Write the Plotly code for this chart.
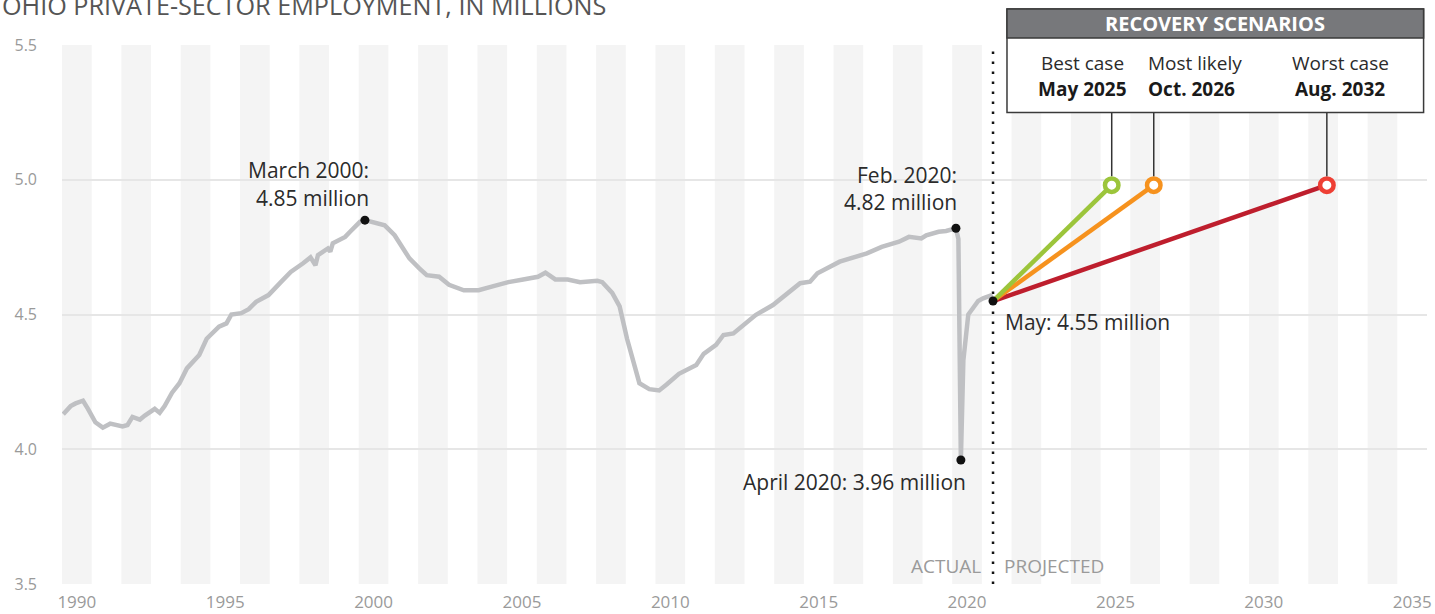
import plotly.graph_objects as go

# ---------------- data ----------------
months = [
    "1990-01", "1990-04", "1990-06", "1990-09", "1990-11", "1991-02", "1991-05", "1991-08",
    "1992-01", "1992-03", "1992-05", "1992-08", "1992-10", "1993-02", "1993-04", "1993-06",
    "1993-09", "1993-12", "1994-03", "1994-05", "1994-08", "1994-11", "1995-04", "1995-07",
    "1995-09", "1996-01", "1996-04", "1996-07", "1996-12", "1997-05", "1997-09", "1998-02",
    "1998-05", "1998-07", "1998-08", "1998-12", "1999-01", "1999-02", "1999-07", "1999-09",
    "2000-01", "2000-03", "2000-06", "2000-11", "2001-03", "2001-09", "2002-01", "2002-04",
    "2002-09", "2003-01", "2003-07", "2004-01", "2004-07", "2005-01", "2005-07", "2006-01",
    "2006-04", "2006-08", "2007-01", "2007-06", "2008-01", "2008-03", "2008-07", "2008-10",
    "2009-01", "2009-04", "2009-06", "2009-10", "2010-02", "2010-05", "2010-10", "2011-05",
    "2011-08", "2012-01", "2012-04", "2012-08", "2013-05", "2013-12", "2014-05", "2014-11",
    "2015-03", "2015-06", "2016-03", "2016-08", "2017-02", "2017-08", "2018-03", "2018-07",
    "2018-12", "2019-02", "2019-07", "2019-10", "2020-02", "2020-03", "2020-04", "2020-05",
    "2020-06", "2020-07", "2020-09", "2020-11", "2021-01", "2021-03", "2021-04", "2021-05",
]
employment = [
    4.13, 4.16, 4.17, 4.18, 4.15, 4.10, 4.08, 4.095,
    4.085, 4.09, 4.12, 4.11, 4.125, 4.15, 4.135, 4.16,
    4.21, 4.245, 4.30, 4.32, 4.35, 4.41, 4.455, 4.467,
    4.50, 4.505, 4.52, 4.547, 4.572, 4.62, 4.658, 4.69,
    4.712, 4.683, 4.72, 4.745, 4.733, 4.764, 4.788, 4.807,
    4.844, 4.85, 4.844, 4.831, 4.794, 4.708, 4.671, 4.646,
    4.64, 4.61, 4.59, 4.59, 4.605, 4.62, 4.63, 4.64,
    4.655, 4.63, 4.63, 4.62, 4.625, 4.62, 4.58, 4.53,
    4.41, 4.31, 4.245, 4.223, 4.218, 4.24, 4.28, 4.313,
    4.354, 4.387, 4.424, 4.43, 4.498, 4.535, 4.572, 4.616,
    4.622, 4.653, 4.696, 4.712, 4.727, 4.751, 4.77, 4.788,
    4.782, 4.794, 4.807, 4.81, 4.82, 4.78, 3.96, 4.33,
    4.44, 4.50, 4.525, 4.55, 4.56, 4.565, 4.57, 4.55,
]

highlight_months = ["2000-03", "2020-02", "2020-04", "2021-05"]
highlight_values = [4.85, 4.82, 3.96, 4.55]

scenario_names = ["Best case", "Most likely", "Worst case"]
scenario_months = ["2025-05", "2026-10", "2032-08"]
scenario_labels = ["May 2025", "Oct. 2026", "Aug. 2032"]
scenario_values = [4.98, 4.98, 4.98]

x_tick_years = list(range(1990, 2036, 5))
y_tick_values = [3.5, 4.0, 4.5, 5.0, 5.5]
y_tick_labels = ["3.5", "4.0", "4.5", "5.0", "5.5"]

# ---------------- helpers / styles ----------------
X0, X1 = 1990, 2036
Y0, Y1 = 3.5, 5.5
PLOT_H = 540.0  # plot-area height in px (for small pixel offsets in paper units)


def to_t(ym):
    y, m = ym.split("-")
    return int(y) + (int(m) - 0.5) / 12.0


def xp(t):  # data x -> paper x
    return (t - X0) / (X1 - X0)


def yp(v):  # data y -> paper y
    return (v - Y0) / (Y1 - Y0)


FONT = "Open Sans"
scen_line_colors = ["#9cc53b", "#f6921e", "#be1e2d"]
scen_ring_colors = ["#9cc53b", "#f6921e", "#ee3f34"]

t_series = [to_t(m) for m in months]
t_hi = [to_t(m) for m in highlight_months]
t_scen = [to_t(m) for m in scenario_months]
t_last, v_last = t_hi[-1], highlight_values[-1]

fig = go.Figure()

fig.add_trace(go.Scatter(
    x=t_series, y=employment, mode="lines",
    line=dict(color="#bfc0c3", width=4.5), hoverinfo="skip", showlegend=False))

for i in reversed(range(len(scenario_names))):
    fig.add_trace(go.Scatter(
        x=[t_last, t_scen[i]], y=[v_last, scenario_values[i]], mode="lines",
        line=dict(color=scen_line_colors[i], width=4.5), hoverinfo="skip", showlegend=False))

fig.add_trace(go.Scatter(
    x=t_hi, y=highlight_values, mode="markers",
    marker=dict(color="#111111", size=9), hoverinfo="skip", showlegend=False))

fig.add_trace(go.Scatter(
    x=t_scen, y=scenario_values, mode="markers",
    marker=dict(color="white", size=13.5, line=dict(color=scen_ring_colors, width=4.5)),
    hoverinfo="skip", showlegend=False, cliponaxis=False))

shapes = []
# alternating year stripes
for yr in range(X0, X1, 2):
    shapes.append(dict(type="rect", xref="x", yref="y", x0=yr, x1=yr + 1, y0=Y0, y1=Y1,
                       fillcolor="#f4f4f4", line=dict(width=0), layer="below"))
# actual / projected divider
shapes.append(dict(type="line", xref="x", yref="y", x0=t_last, x1=t_last, y0=Y0, y1=Y1,
                   line=dict(color="#111111", width=2.5, dash="2.5px,7.5px"), layer="between"))

# scenario box geometry (paper coords)
bx0, bx1 = 0.6923, 0.9975
by0, by1 = 0.875, 1.0667
bhead = 1.013
for i in range(len(scenario_names)):
    shapes.append(dict(type="line", xref="paper", yref="paper",
                       x0=xp(t_scen[i]), x1=xp(t_scen[i]),
                       y0=yp(scenario_values[i]) + 9 / PLOT_H, y1=by0,
                       line=dict(color="#333333", width=1.5), layer="above"))
shapes.append(dict(type="rect", xref="paper", yref="paper", x0=bx0, x1=bx1, y0=by0, y1=by1,
                   fillcolor="white", line=dict(color="#3a3a3a", width=1.5), layer="above"))
shapes.append(dict(type="rect", xref="paper", yref="paper", x0=bx0, x1=bx1, y0=bhead, y1=by1,
                   fillcolor="#77787b", line=dict(color="#3a3a3a", width=1.5), layer="above"))

ann = []
dark = "#2b2b2b"
AF = 21


def label(text, x, y, xanchor, xshift, yshift, size=AF, color=dark):
    ann.append(dict(text=text, x=x, y=y, xref="x", yref="y", showarrow=False,
                    xanchor=xanchor, yanchor="middle", xshift=xshift, yshift=yshift,
                    font=dict(family=FONT, size=size, color=color)))


label("March 2000:", t_hi[0], highlight_values[0], "right", 6, 50)
label("%.2f million" % highlight_values[0], t_hi[0], highlight_values[0], "right", 6, 22)
label("Feb. 2020:", t_hi[1], highlight_values[1], "right", 3, 53)
label("%.2f million" % highlight_values[1], t_hi[1], highlight_values[1], "right", 3, 26)
label("April 2020: %.2f million" % highlight_values[2], t_hi[2], highlight_values[2], "right", 7, -22)
label("May: %.2f million" % highlight_values[3], t_hi[3], highlight_values[3], "left", 10, -21)

ann.append(dict(text="ACTUAL", x=t_last, y=0.034, xref="x", yref="paper", showarrow=False,
                xanchor="right", yanchor="middle", xshift=-10,
                font=dict(family=FONT, size=19, color="#9a9a9a")))
ann.append(dict(text="PROJECTED", x=t_last, y=0.034, xref="x", yref="paper", showarrow=False,
                xanchor="left", yanchor="middle", xshift=9,
                font=dict(family=FONT, size=19, color="#9a9a9a")))

ann.append(dict(text="<b>RECOVERY SCENARIOS</b>", x=(bx0 + bx1) / 2, y=(bhead + by1) / 2,
                xref="paper", yref="paper", showarrow=False, xanchor="center", yanchor="middle",
                font=dict(family=FONT, size=20, color="white")))

box_name_x = [0.7473, 0.7941, 0.9363]
box_anchor = ["center", "left", "center"]
for i in range(len(scenario_names)):
    ann.append(dict(text=scenario_names[i], x=box_name_x[i], y=0.9657, xref="paper", yref="paper",
                    showarrow=False, xanchor=box_anchor[i], yanchor="middle",
                    font=dict(family=FONT, size=19, color=dark)))
    ann.append(dict(text="<b>%s</b>" % scenario_labels[i], x=box_name_x[i], y=0.9176,
                    xref="paper", yref="paper", showarrow=False, xanchor=box_anchor[i],
                    yanchor="middle", font=dict(family=FONT, size=19, color="#1a1a1a")))

ann.append(dict(text="OHIO PRIVATE-SECTOR EMPLOYMENT, IN MILLIONS", x=-62 / 1365, y=1.039,
                xref="paper", yref="paper", showarrow=False, xanchor="left", yanchor="bottom",
                font=dict(family=FONT, size=25.2, color="#555555")))

fig.update_layout(
    width=1435, height=614,
    margin=dict(l=62, r=8, t=44.5, b=29.5, pad=0),
    paper_bgcolor="white", plot_bgcolor="rgba(0,0,0,0)",
    shapes=shapes, annotations=ann, hovermode=False, showlegend=False,
    font=dict(family=FONT),
    xaxis=dict(range=[X0, X1], showgrid=False, zeroline=False, showline=False, ticks="",
               tickvals=[y + 0.5 for y in x_tick_years], ticktext=[str(y) for y in x_tick_years],
               tickfont=dict(family=FONT, size=17, color="#9a9a9a"), ticklabelstandoff=6,
               automargin=False, fixedrange=True),
    yaxis=dict(range=[Y0, Y1], showgrid=True, gridcolor="#e6e6e6", gridwidth=1.5,
               zeroline=False, showline=False, ticks="",
               tickvals=y_tick_values, ticktext=y_tick_labels,
               tickfont=dict(family=FONT, size=16, color="#9a9a9a"), ticklabelstandoff=24,
               automargin=False, fixedrange=True),
)

fig.write_html("out.html", config={"displayModeBar": False},
               post_script="document.body.style.margin='0';document.body.style.overflow='hidden';")
